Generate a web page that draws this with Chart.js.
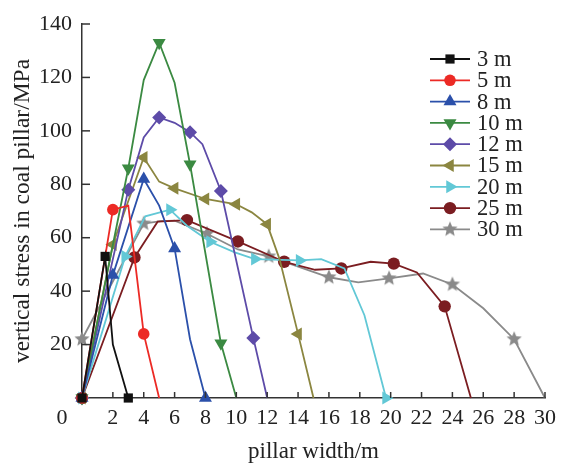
<!DOCTYPE html>
<html>
<head>
<meta charset="utf-8">
<script src="https://cdn.jsdelivr.net/npm/chart.js@4.4.0/dist/chart.umd.min.js"></script>
<style>
  html, body { margin: 0; padding: 0; background: #fff; }
</style>
</head>
<body>
<canvas id="stressChart" width="563" height="464"></canvas>
<script>
// series names
const seriesNames = ['3 m', '5 m', '8 m', '10 m', '12 m', '15 m', '20 m', '25 m', '30 m'];

// pillar width (m) and vertical stress (MPa)
const x3 = [0, 1.5, 2, 3];
const y3 = [0, 53, 20, 0];
const x5 = [0, 2, 3, 4, 5];
const y5 = [0, 70.5, 72, 24, 0];
const x8 = [0, 2, 4, 5, 6, 7, 8];
const y8 = [0, 46, 82, 72, 56, 22, 0];
const x10 = [0, 3, 4, 5, 6, 7, 9, 10];
const y10 = [0, 86, 119, 133, 118, 87.5, 20.5, 0];
const x12 = [0, 3, 4, 5, 6, 7, 7.8, 9, 11.1, 12];
const y12 = [0, 78, 97.5, 105, 103, 99.5, 95, 77.5, 22.5, 0];
const x15 = [0, 2, 4, 5, 6, 8, 10, 11, 12, 12.8, 14, 15];
const y15 = [0, 57.5, 90, 81, 78.5, 74.5, 72.5, 69.5, 65, 52, 24, 0];
const x20 = [0, 2.8, 4.1, 5.7, 6.8, 8.3, 9.9, 11.2, 14.1, 15.5, 17, 18.3, 19.7];
const y20 = [0, 53, 68, 70.5, 64.5, 58.5, 54.5, 52, 51.5, 52, 48.5, 31, 0];
const x25 = [0, 3.4, 4.9, 6.8, 10.1, 13.1, 15.1, 16.8, 18.7, 20.2, 21.7, 23.5, 25.2];
const y25 = [0, 52.6, 66, 66.6, 58.6, 51, 48, 48.5, 51, 50.3, 47, 34.3, 0];
const x30 = [0, 4, 5.1, 6, 8.1, 10.1, 12.1, 16, 17.9, 19.9, 22.1, 24, 26, 28, 30];
const y30 = [22, 65.3, 66.2, 66.4, 61.5, 55.6, 53, 45.2, 43.3, 44.8, 46.6, 42.5, 33.6, 22, 0];

// which points carry a marker
const marks3 = [0, 1, 3];
const marks5 = [0, 1, 3];
const marks8 = [0, 1, 2, 4, 6];
const marks10 = [0, 1, 3, 5, 6];
const marks12 = [0, 1, 3, 5, 7, 8];
const marks15 = [0, 1, 2, 4, 5, 6, 8, 10];
const marks20 = [0, 1, 3, 5, 7, 8, 12];
const marks25 = [0, 1, 3, 4, 5, 7, 9, 11];
const marks30 = [0, 1, 4, 6, 7, 9, 11, 13];

// axis ticks
const xTicks = [0, 2, 4, 6, 8, 10, 12, 14, 16, 18, 20, 22, 24, 26, 28, 30];
const yTicks = [0, 20, 40, 60, 80, 100, 120, 140];

const FONT = '"Liberation Serif", "Times New Roman", serif';

function makeStar(color, r) {
    const c = document.createElement('canvas');
    const s = Math.ceil(r * 2 + 2);
    c.width = s; c.height = s;
    const g = c.getContext('2d');
    g.fillStyle = color;
    g.beginPath();
    for (let i = 0; i < 10; i++) {
        const rad = i % 2 === 0 ? r : r * 0.45;
        const a = -Math.PI / 2 + i * Math.PI / 5;
        const px = s / 2 + rad * Math.cos(a), py = s / 2 + rad * Math.sin(a);
        if (i === 0) g.moveTo(px, py); else g.lineTo(px, py);
    }
    g.closePath();
    g.fill();
    return c;
}

const styles = [
    { color: '#111111', point: 'rect', rot: 0, r: 6.5 },
    { color: '#ec2a25', point: 'circle', rot: 0, r: 5.8 },
    { color: '#2b50aa', point: 'triangle', rot: 0, r: 7.5 },
    { color: '#3b8a42', point: 'triangle', rot: 180, r: 7.5 },
    { color: '#5d4ba8', point: 'rectRot', rot: 0, r: 7 },
    { color: '#8b8640', point: 'triangle', rot: -90, r: 7.5 },
    { color: '#62c8d6', point: 'triangle', rot: 90, r: 7.5 },
    { color: '#7b1d21', point: 'circle', rot: 0, r: 6.2 },
    { color: '#8a8a8a', point: makeStar('#8a8a8a', 8), rot: 0, r: 8 }
];

const xs = [x3, x5, x8, x10, x12, x15, x20, x25, x30];
const ys = [y3, y5, y8, y10, y12, y15, y20, y25, y30];
const marks = [marks3, marks5, marks8, marks10, marks12, marks15, marks20, marks25, marks30];

const datasets = seriesNames.map((name, i) => ({
    label: name,
    data: xs[i].map((x, k) => ({ x: x, y: ys[i][k] })),
    borderColor: styles[i].color,
    backgroundColor: styles[i].color,
    borderWidth: 1.8,
    pointStyle: styles[i].point,
    pointRotation: styles[i].rot,
    pointRadius: ctx => marks[i].includes(ctx.dataIndex) ? styles[i].r : 0,
    pointBorderWidth: 0,
    tension: 0,
    fill: false,
    clip: false
}));

// inward tick marks, origin label and in-plot legend
const decorations = {
    id: 'decorations',
    afterDraw(chart) {
        const ctx = chart.ctx;
        const xs_ = chart.scales.x, ys_ = chart.scales.y;
        const area = chart.chartArea;
        ctx.save();
        ctx.strokeStyle = '#333';
        ctx.lineWidth = 1.5;
        xTicks.forEach(v => {
            if (v === 0) return;
            const px = xs_.getPixelForValue(v);
            ctx.beginPath(); ctx.moveTo(px, area.bottom); ctx.lineTo(px, area.bottom - 6); ctx.stroke();
        });
        yTicks.forEach(v => {
            if (v === 0) return;
            const py = ys_.getPixelForValue(v);
            ctx.beginPath(); ctx.moveTo(area.left, py); ctx.lineTo(area.left + 8, py); ctx.stroke();
        });
        ctx.fillStyle = '#222';
        ctx.font = '22px ' + FONT;
        ctx.textAlign = 'center';
        ctx.textBaseline = 'middle';
        ctx.fillText('0', xs_.getPixelForValue(0) - 20, area.bottom + 20);

        // legend
        const lx = 430, ly = 59, step = 21.3;
        ctx.font = '22.5px ' + FONT;
        ctx.textAlign = 'left';
        ctx.textBaseline = 'middle';
        chart.data.datasets.forEach((ds, i) => {
            const y = ly + i * step;
            ctx.strokeStyle = styles[i].color;
            ctx.lineWidth = 1.8;
            ctx.beginPath(); ctx.moveTo(lx, y); ctx.lineTo(lx + 40, y); ctx.stroke();
            ctx.fillStyle = styles[i].color;
            Chart.helpers.drawPoint(ctx, {
                pointStyle: styles[i].point,
                rotation: styles[i].rot,
                radius: styles[i].r,
                borderWidth: 0
            }, lx + 20, y);
            ctx.fillStyle = '#222';
            ctx.fillText(ds.label, lx + 47, y + 1);
        });
        ctx.restore();
    }
};

new Chart(document.getElementById('stressChart').getContext('2d'), {
    type: 'line',
    data: { datasets: datasets },
    options: {
        responsive: false,
        animation: false,
        layout: { padding: { top: 24, right: 13, left: 0, bottom: 0 } },
        plugins: {
            legend: { display: false },
            tooltip: { enabled: false }
        },
        scales: {
            x: {
                type: 'linear',
                min: 0,
                max: 30,
                afterFit: s => { s.height = 66; },
                afterBuildTicks: s => { s.ticks = xTicks.map(v => ({ value: v })); },
                grid: { display: false, drawTicks: false },
                border: { display: true, color: '#333', width: 1.5 },
                ticks: {
                    color: '#222',
                    font: { family: FONT, size: 22 },
                    padding: 7,
                    maxRotation: 0,
                    autoSkip: false,
                    callback: v => v === 0 ? '' : String(v)
                },
                title: {
                    display: true,
                    text: 'pillar width/m',
                    color: '#222',
                    font: { family: FONT, size: 23 },
                    padding: { top: 0, bottom: -2 }
                }
            },
            y: {
                min: 0,
                max: 140,
                afterFit: s => { s.width = 82; },
                afterBuildTicks: s => { s.ticks = yTicks.map(v => ({ value: v })); },
                grid: { display: false, drawTicks: false },
                border: { display: true, color: '#333', width: 1.5 },
                ticks: {
                    color: '#222',
                    font: { family: FONT, size: 22 },
                    padding: 10,
                    autoSkip: false,
                    callback: v => v === 0 ? '' : String(v)
                },
                title: {
                    display: true,
                    text: 'vertical stress in coal pillar/MPa',
                    color: '#222',
                    font: { family: FONT, size: 23.5 },
                    padding: { top: 9, bottom: 0 }
                }
            }
        }
    },
    plugins: [decorations]
});
</script>
</body>
</html>
